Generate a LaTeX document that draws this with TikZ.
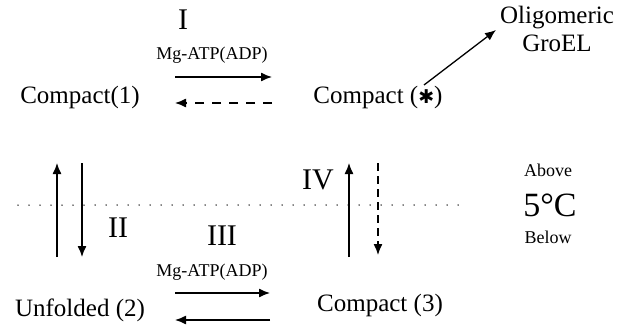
\documentclass[tikz,border=0pt]{standalone}
\usepackage{fontspec}
\setmainfont{Liberation Serif}
\newfontfamily\symfont{DejaVu Sans}
\usetikzlibrary{arrows.meta}
\begin{document}
\begin{tikzpicture}[x=1pt,y=-1pt,
  lbl/.style={inner sep=0pt,font=\fontsize{25}{28}\selectfont},
  small/.style={inner sep=0pt,font=\fontsize{18}{20}\selectfont},
  roman/.style={inner sep=0pt,font=\fontsize{30}{32}\selectfont},
  arr/.style={line width=1.3pt,-{Latex[length=11pt,width=9pt]}},
  dsh/.style={arr,dash pattern=on 9pt off 8pt},
  dsh2/.style={arr,dash pattern=on 8pt off 5pt}]
\useasboundingbox (0,0) rectangle (619,329);
% nodes
\node[lbl] (c1) at (80,97) {Compact(1)};
\node[lbl] (cs) at (378,97) {Compact ({\symfont\fontsize{19}{19}\selectfont ✱})};
\node[lbl] (u2) at (80,310) {Unfolded (2)};
\node[lbl] (c3) at (380,305) {Compact (3)};
\node[lbl,align=center] (olig) at (557,29) {Oligomeric\\GroEL};
\node[roman] (rI) at (183,20) {I};
\node[roman] (rII) at (118,228) {II};
\node[roman] (rIII) at (222,236) {III};
\node[roman] (rIV) at (318,180) {IV};
\node[small] (mg1) at (212,55) {Mg-ATP(ADP)};
\node[small] (mg2) at (212,272) {Mg-ATP(ADP)};
\node[small] (above) at (548,170) {Above};
\node[inner sep=0pt,font=\fontsize{34}{36}\selectfont] (temp) at (550,205) {5\textdegree C};
\node[small] (below) at (548,237) {Below};
% coordinates
\coordinate (a1s) at (175,77); \coordinate (a1e) at (272,77);
\coordinate (d1s) at (272,103); \coordinate (d1e) at (175,103);
\coordinate (os) at (424,85); \coordinate (oe) at (496,30);
\coordinate (l1s) at (57,257); \coordinate (l1e) at (57,163);
\coordinate (l2s) at (82,163); \coordinate (l2e) at (82,257);
\coordinate (r1s) at (349,257); \coordinate (r1e) at (349,163);
\coordinate (r2s) at (378,163); \coordinate (r2e) at (378,255);
\coordinate (b1s) at (175,293); \coordinate (b1e) at (270,293);
\coordinate (b2s) at (270,320); \coordinate (b2e) at (175,320);
\coordinate (dl1) at (18,205); \coordinate (dl2) at (460,205);
% connectors
\draw[arr] (a1s) -- (a1e);
\draw[dsh] (d1s) -- (d1e);
\draw[arr] (os) -- (oe);
\draw[arr] (l1s) -- (l1e);
\draw[arr] (l2s) -- (l2e);
\draw[arr] (r1s) -- (r1e);
\draw[dsh2] (r2s) -- (r2e);
\draw[arr] (b1s) -- (b1e);
\draw[arr] (b2s) -- (b2e);
\draw[line width=1.5pt,line cap=round,dash pattern=on 0pt off 11pt] (dl1) -- (dl2);
\end{tikzpicture}
\end{document}
